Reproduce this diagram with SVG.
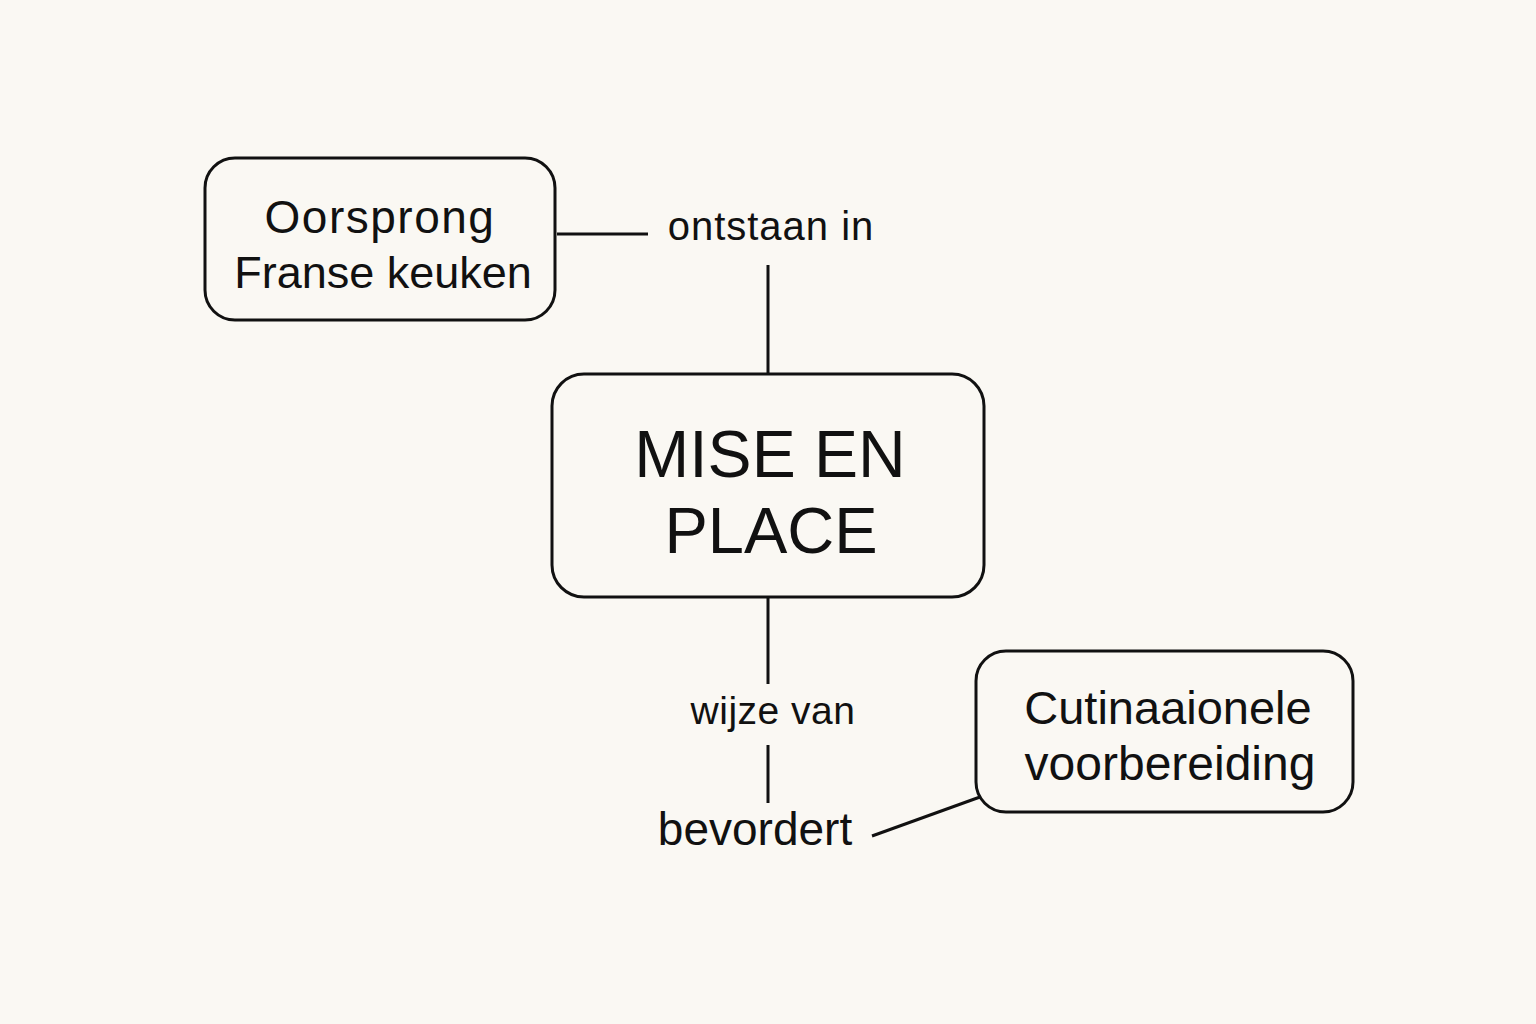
<svg xmlns="http://www.w3.org/2000/svg" width="1536" height="1024" viewBox="0 0 1536 1024">
<style>
.box{fill:#faf8f3;stroke:#111;stroke-width:3}
.t{font-family:"Liberation Sans",Arial,sans-serif;fill:#111;text-anchor:middle}
.c{stroke:#111;stroke-width:3;fill:none}
</style>
<rect width="1536" height="1024" fill="#faf8f3"/>
<g id="connectors">
<line class="c" x1="557" y1="234" x2="648" y2="234"/>
<line class="c" x1="768" y1="265" x2="768" y2="373"/>
<line class="c" x1="768" y1="598" x2="768" y2="684"/>
<line class="c" x1="768" y1="745" x2="768" y2="803"/>
<line class="c" x1="872" y1="836" x2="980" y2="797"/>
</g>
<g id="node-oorsprong">
<rect class="box" x="205" y="158" width="350" height="162" rx="30"/>
<text class="t" x="380" y="233" font-size="46" letter-spacing="1.5">Oorsprong</text>
<text class="t" x="383" y="288" font-size="45">Franse keuken</text>
</g>
<g id="node-mise">
<rect class="box" x="552" y="374" width="432" height="223" rx="32"/>
<text class="t" x="770" y="477" font-size="66">MISE EN</text>
<text class="t" x="771" y="553" font-size="65">PLACE</text>
</g>
<g id="node-culinair">
<rect class="box" x="976" y="651" width="377" height="161" rx="30"/>
<text class="t" x="1168" y="724" font-size="47">Cutinaaionele</text>
<text class="t" x="1170" y="780" font-size="48">voorbereiding</text>
</g>
<g id="labels">
<text class="t" x="771" y="240" font-size="40" letter-spacing="1">ontstaan in</text>
<text class="t" x="773" y="724" font-size="39" letter-spacing="0.5">wijze van</text>
<text class="t" x="755" y="845" font-size="46">bevordert</text>
</g>
</svg>
